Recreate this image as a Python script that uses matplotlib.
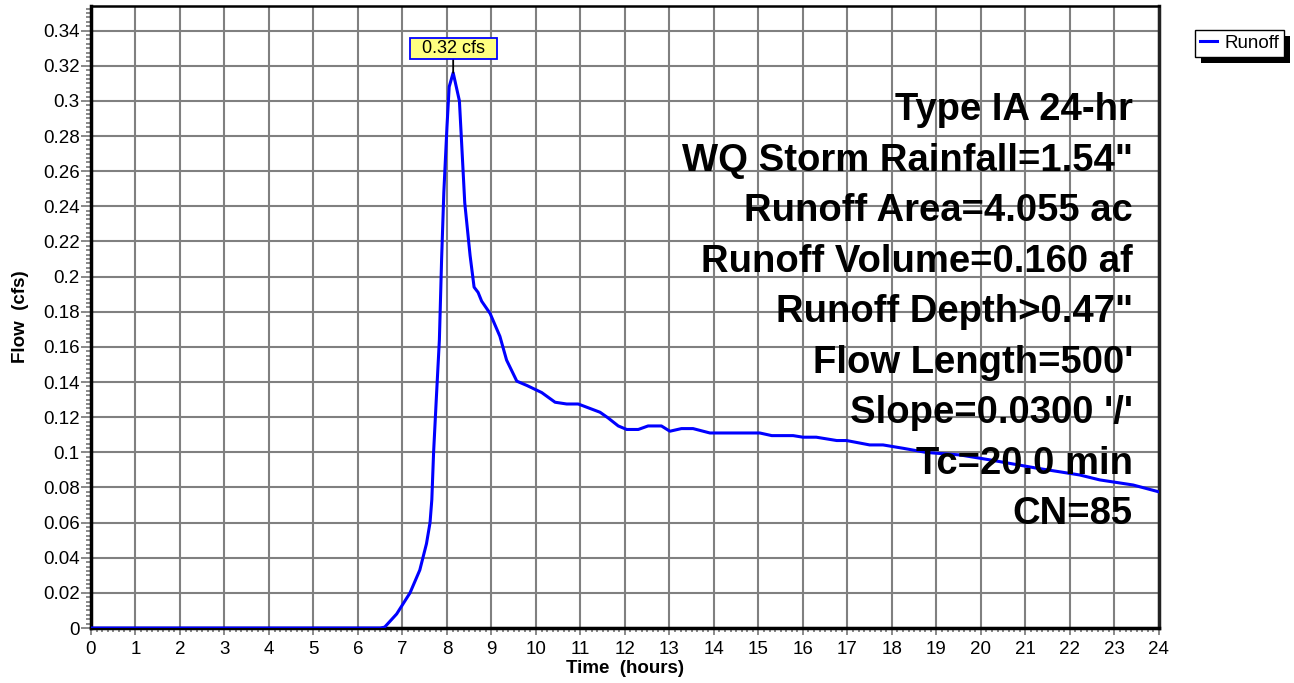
import matplotlib
matplotlib.use('Agg')
import matplotlib.pyplot as plt
from matplotlib.ticker import MultipleLocator, FuncFormatter
from matplotlib.patches import Rectangle
from matplotlib.transforms import IdentityTransform
import numpy as np

plt.rcParams['font.family'] = ['Liberation Sans', 'DejaVu Sans']

# runoff hydrograph
hours = [0, 6.5, 6.6, 6.87, 7.17, 7.39, 7.54, 7.62, 7.66, 7.7, 7.76, 7.83, 7.88,
         7.93, 8.0, 8.05, 8.14, 8.28, 8.33, 8.4, 8.52, 8.61, 8.7, 8.78, 8.97,
         9.19, 9.34, 9.57, 9.8, 10.13, 10.43, 10.69, 10.95, 11.44, 11.62, 11.85,
         12.04, 12.3, 12.52, 12.82, 13.01, 13.27, 13.53, 13.91, 14.43, 15.03,
         15.3, 15.78, 16.0, 16.3, 16.76, 16.98, 17.5, 17.8, 18.25, 18.78, 19.53,
         20.2, 21.25, 22.22, 22.67, 23.42, 24.0]
flow_cfs = [0, 0, 0.0005, 0.008, 0.02, 0.033, 0.048, 0.06, 0.073, 0.10, 0.13,
            0.164, 0.21, 0.248, 0.285, 0.308, 0.316, 0.300, 0.276, 0.242, 0.212,
            0.194, 0.191, 0.186, 0.179, 0.166, 0.1525, 0.1405, 0.138, 0.134,
            0.1285, 0.1275, 0.1275, 0.1228, 0.1196, 0.115, 0.113, 0.113, 0.115,
            0.115, 0.112, 0.1135, 0.1135, 0.111, 0.111, 0.111, 0.1095, 0.1095,
            0.1086, 0.1086, 0.1067, 0.1067, 0.1042, 0.1042, 0.1023, 0.0999,
            0.0985, 0.0957, 0.091, 0.0871, 0.0843, 0.0814, 0.0775]

info_lines = ['Type IA 24-hr',
              'WQ Storm Rainfall=1.54"',
              'Runoff Area=4.055 ac',
              'Runoff Volume=0.160 af',
              'Runoff Depth>0.47"',
              "Flow Length=500'",
              "Slope=0.0300 '/'",
              'Tc=20.0 min',
              'CN=85']

fig = plt.figure(figsize=(12.94, 6.83), dpi=100)
ax = fig.add_axes([0.0703, 0.0805, 0.8253, 0.9107])

ax.plot(hours, flow_cfs, color='#0000ff', lw=2.2, label='Runoff', zorder=3)

ax.set_xlim(0, 24)
ax.set_ylim(0, 0.354)
ax.xaxis.set_major_locator(MultipleLocator(1))
ax.xaxis.set_minor_locator(MultipleLocator(0.125))
ax.yaxis.set_major_locator(MultipleLocator(0.02))
ax.yaxis.set_minor_locator(MultipleLocator(0.0025))
ax.yaxis.set_major_formatter(FuncFormatter(lambda v, p: f'{v:.2f}'.rstrip('0').rstrip('.')))

ax.grid(which='major', color='#808080', lw=1.5)
ax.set_axisbelow(True)

ax.tick_params(axis='both', which='both', color='#808080', width=1.3, labelsize=13.5)
ax.tick_params(axis='y', which='major', length=7, pad=1)
ax.tick_params(axis='y', which='minor', length=3.5)
ax.tick_params(axis='x', which='major', length=5, pad=4)
ax.tick_params(axis='x', which='minor', length=3)

for side in ['left', 'bottom']:
    ax.spines[side].set_linewidth(2.5)
    ax.spines[side].set_color('black')
ax.spines['top'].set_linewidth(1.8)
ax.spines['right'].set_linewidth(2.5)
ax.spines['right'].set_color('#222222')

ax.set_xlabel('Time  (hours)', fontweight='bold', fontsize=13.5, labelpad=2)
ax.set_ylabel('Flow  (cfs)', fontweight='bold', fontsize=13.5, labelpad=10)

# storm / basin summary, right aligned
for i, line in enumerate(info_lines):
    ax.text(0.9757, (628 - (120 + 50.54 * i)) / 622, line, transform=ax.transAxes,
            ha='right', va='baseline', fontsize=27.5, fontweight='bold', zorder=4)

# peak label
i_pk = int(np.argmax(flow_cfs))
ax.annotate(f'  {flow_cfs[i_pk]:.2f} cfs  ', xy=(hours[i_pk], flow_cfs[i_pk]),
            xytext=(hours[i_pk], 0.330), ha='center', va='center', fontsize=13,
            bbox=dict(boxstyle='square,pad=0.12', fc='#ffff80', ec='#0000ff', lw=1.3),
            arrowprops=dict(arrowstyle='-', color='black', lw=1.3, shrinkA=0, shrinkB=0),
            zorder=5)

leg = fig.legend(loc='upper left', bbox_to_anchor=(1195 / 1294, 1 - 30 / 683),
                 fancybox=False, edgecolor='black', framealpha=1, fontsize=13.5,
                 handlelength=0.9, handletextpad=0.4, borderpad=0.25, borderaxespad=0)
leg.get_frame().set_linewidth(1.0)

# black drop shadow behind the legend box
fig.canvas.draw()
bb = leg.get_window_extent()
fig.add_artist(Rectangle((bb.x0 + 6, bb.y0 - 6), bb.width, bb.height,
                         transform=IdentityTransform(), fc='black', ec='none',
                         zorder=leg.get_zorder() - 0.5))

fig.savefig('out.png', dpi=100)
